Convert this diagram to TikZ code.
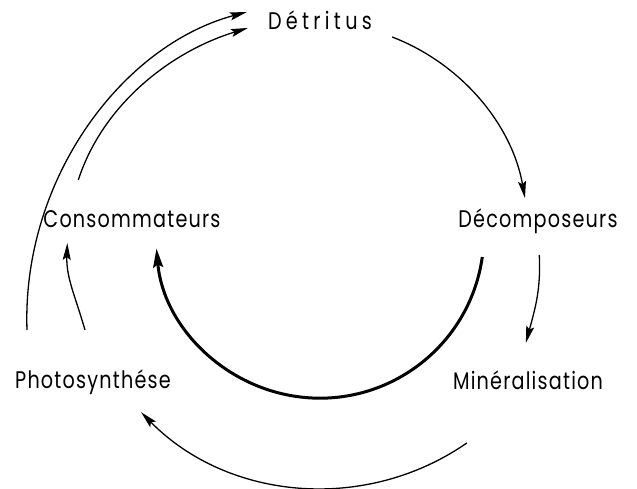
\documentclass[tikz,border=0pt]{standalone}
\usepackage{fontspec}
\setmainfont{Poppins}[FakeStretch=0.8, LetterSpace=5]
\usetikzlibrary{arrows.meta}
\begin{document}
\begin{tikzpicture}[x=1pt,y=1pt,
  lbl/.style={inner sep=0pt, anchor=base, font=\fontsize{24}{28}\selectfont},
  arr/.style={line width=1.3pt, -{Stealth[length=17pt,width=8pt,inset=3pt]}},
  thickarr/.style={line width=3pt, -{Stealth[length=19pt,width=10pt,inset=3pt]}}]
\useasboundingbox (0,0) rectangle (637,489);
\node[lbl] (det) at (320,459) {\addfontfeatures{LetterSpace=18}Détritus};
\node[lbl] (cons) at (132,261) {Consommateurs};
\node[lbl] (dec) at (538,261) {Décomposeurs};
\node[lbl] (pho) at (93,100) {Photosynthése};
\node[lbl] (min) at (528,99) {Minéralisation};
% Detritus -> Decomposeurs
\draw[arr] ([shift={(20,-7)}]det.base east) arc[start angle=69, end angle=10, radius=212];
% Decomposeurs -> Mineralisation
\draw[arr] ([shift={(81,-27)}]dec.base west) to[out=-87,in=75] ([shift={(73,47)}]min.base west);
% Mineralisation -> Photosynthese
\draw[arr] ([shift={(14,-53)}]min.base west) arc[start angle=-55.3, end angle=-135.5, radius=254];
% Decomposeurs -> Consommateurs (thick inner)
\draw[thickarr] ([shift={(24,-29)}]dec.base west) arc[start angle=-8, end angle=-175, radius=164];
% Photosynthese -> Consommateurs
\draw[arr] ([shift={(70,59)}]pho.base west) to[out=106,in=-92] ([shift={(24,-15)}]cons.base west);
% Photosynthese -> Detritus (outer)
\draw[arr] ([shift={(12,59)}]pho.base west) to[out=92,in=195,out distance=150,in distance=130] ([shift={(-21,18)}]det.base west);
% Consommateurs -> Detritus
\draw[arr] ([shift={(35,48)}]cons.base west) to[out=72,in=197,out distance=80,in distance=80] ([shift={(-20,2)}]det.base west);
\end{tikzpicture}
\end{document}
